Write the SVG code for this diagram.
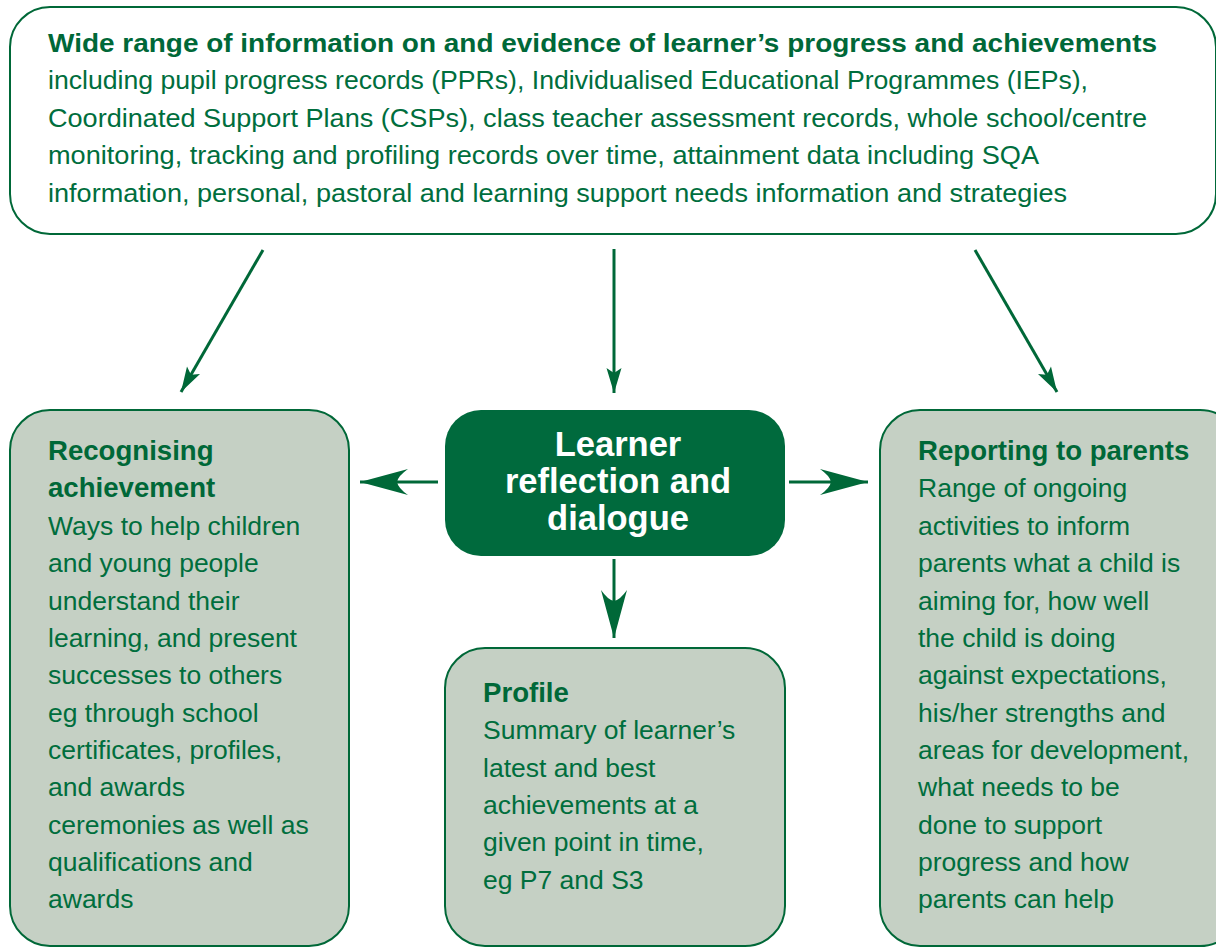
<svg xmlns="http://www.w3.org/2000/svg" width="1216" height="947" viewBox="0 0 1216 947">
<style>
.t{font-family:"Liberation Sans",Arial,sans-serif;font-size:26.5px;fill:#006e3d}
.b{font-weight:bold;fill:#006838}
.h{font-size:27.6px}
.w{font-family:"Liberation Sans",Arial,sans-serif;font-size:34.5px;font-weight:bold;fill:#ffffff;text-anchor:middle}
.box{fill:#c5d0c4;stroke:#006838;stroke-width:2}
.con{stroke:#006838;stroke-width:3;fill:none}
</style>
<defs>
<marker id="hs" markerUnits="userSpaceOnUse" markerWidth="30" markerHeight="20" viewBox="-26 -10 28 20" refX="0" refY="0" orient="auto">
<path d="M0,0 L-25,-7.5 L-20,0 L-25,7.5 Z" fill="#006838"/>
</marker>
<marker id="hl" markerUnits="userSpaceOnUse" markerWidth="52" markerHeight="30" viewBox="-50 -15 52 30" refX="0" refY="0" orient="auto">
<path d="M0,0 L-48,-13 Q-38,-6 -37,0 Q-38,6 -48,13 Z" fill="#006838"/>
</marker>
</defs>
<rect width="1216" height="947" fill="#ffffff"/>
<g id="top">
<rect x="10" y="7" width="1206" height="227" rx="40" fill="#ffffff" stroke="#006838" stroke-width="2"/>
<text class="t b" x="48" y="52" textLength="1109" lengthAdjust="spacingAndGlyphs">Wide range of information on and evidence of learner’s progress and achievements</text>
<text class="t" x="48" y="89" textLength="1040" lengthAdjust="spacingAndGlyphs">including pupil progress records (PPRs), Individualised Educational Programmes (IEPs),</text>
<text class="t" x="48" y="127" textLength="1099" lengthAdjust="spacingAndGlyphs">Coordinated Support Plans (CSPs), class teacher assessment records, whole school/centre</text>
<text class="t" x="48" y="164" textLength="991" lengthAdjust="spacingAndGlyphs">monitoring, tracking and profiling records over time, attainment data including SQA</text>
<text class="t" x="48" y="202" textLength="1019" lengthAdjust="spacingAndGlyphs">information, personal, pastoral and learning support needs information and strategies</text>
</g>
<g id="recognising">
<rect class="box" x="10" y="410" width="339" height="536" rx="40"/>
<text class="t b h" x="48" y="460">Recognising</text>
<text class="t b h" x="48" y="497">achievement</text>
<text class="t" x="48" y="535">Ways to help children</text>
<text class="t" x="48" y="572">and young people</text>
<text class="t" x="48" y="610">understand their</text>
<text class="t" x="48" y="647">learning, and present</text>
<text class="t" x="48" y="684">successes to others</text>
<text class="t" x="48" y="722">eg through school</text>
<text class="t" x="48" y="759">certificates, profiles,</text>
<text class="t" x="48" y="796">and awards</text>
<text class="t" x="48" y="834">ceremonies as well as</text>
<text class="t" x="48" y="871">qualifications and</text>
<text class="t" x="48" y="908">awards</text>
</g>
<g id="learner">
<rect x="445" y="410" width="340" height="146" rx="36" fill="#006a3d"/>
<text class="w" x="618" y="456">Learner</text>
<text class="w" x="618" y="493">reflection and</text>
<text class="w" x="618" y="530">dialogue</text>
</g>
<g id="profile">
<rect class="box" x="445" y="648" width="340" height="298" rx="40"/>
<text class="t b h" x="483" y="702">Profile</text>
<text class="t" x="483" y="739">Summary of learner’s</text>
<text class="t" x="483" y="777">latest and best</text>
<text class="t" x="483" y="814">achievements at a</text>
<text class="t" x="483" y="851">given point in time,</text>
<text class="t" x="483" y="889">eg P7 and S3</text>
</g>
<g id="reporting">
<rect class="box" x="880" y="410" width="360" height="536" rx="40"/>
<text class="t b h" x="918" y="460">Reporting to parents</text>
<text class="t" x="918" y="497">Range of ongoing</text>
<text class="t" x="918" y="535">activities to inform</text>
<text class="t" x="918" y="572">parents what a child is</text>
<text class="t" x="918" y="610">aiming for, how well</text>
<text class="t" x="918" y="647">the child is doing</text>
<text class="t" x="918" y="684">against expectations,</text>
<text class="t" x="918" y="722">his/her strengths and</text>
<text class="t" x="918" y="759">areas for development,</text>
<text class="t" x="918" y="796">what needs to be</text>
<text class="t" x="918" y="834">done to support</text>
<text class="t" x="918" y="871">progress and how</text>
<text class="t" x="918" y="908">parents can help</text>
</g>
<g id="connectors">
<line class="con" x1="263" y1="250" x2="181" y2="392" marker-end="url(#hs)"/>
<line class="con" x1="614" y1="249" x2="614" y2="393" marker-end="url(#hs)"/>
<line class="con" x1="975" y1="250" x2="1057" y2="392" marker-end="url(#hs)"/>
<line class="con" x1="438" y1="482" x2="360" y2="482" marker-end="url(#hl)"/>
<line class="con" x1="789" y1="482" x2="868" y2="482" marker-end="url(#hl)"/>
<line class="con" x1="614" y1="559" x2="614" y2="638" marker-end="url(#hl)"/>
</g>
</svg>
